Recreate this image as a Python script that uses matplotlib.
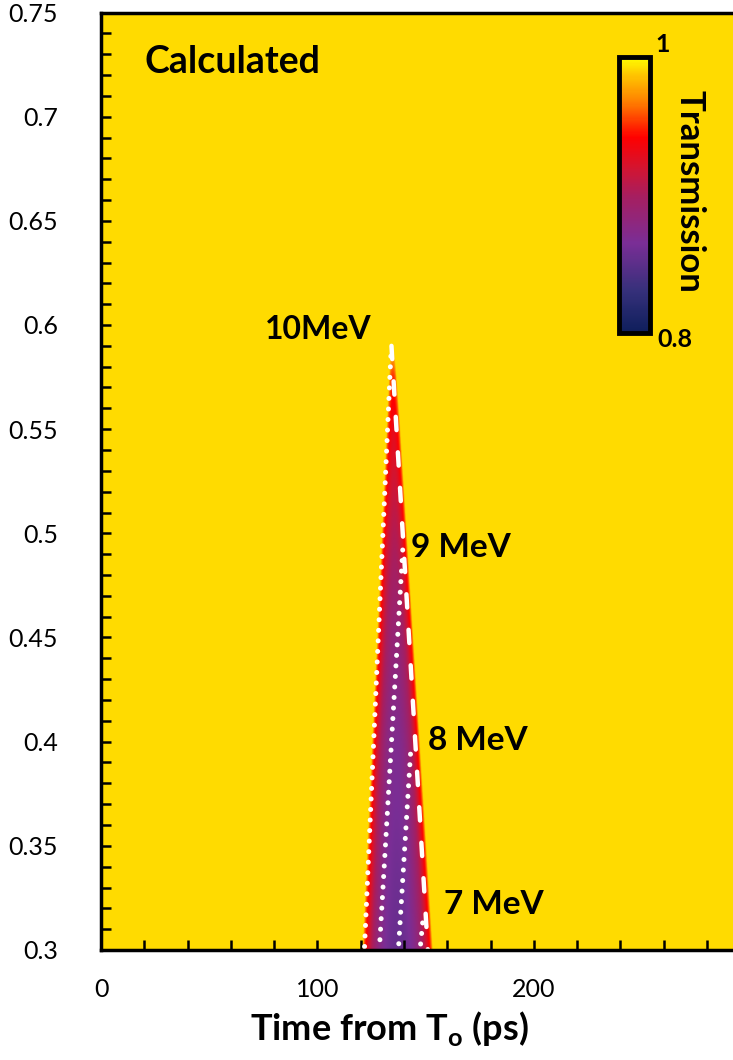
import matplotlib
matplotlib.use("Agg")
import matplotlib.pyplot as plt
import numpy as np
from matplotlib.colors import LinearSegmentedColormap
from matplotlib.ticker import MultipleLocator, FuncFormatter

plt.rcParams['font.family'] = ['Lato', 'DejaVu Sans']
plt.rcParams['mathtext.fontset'] = 'custom'
plt.rcParams['mathtext.rm'] = 'Lato'
plt.rcParams['mathtext.bf'] = 'Lato:bold'

# transmission colour scale, 0.8 (navy) -> 1 (yellow)
cmap_vals = [0.80, 0.83, 0.865, 0.90, 0.92, 0.942, 0.968, 0.988, 1.00]
cmap_cols = ['#0E1E5B', '#35307A', '#7A2E96', '#A81E5E', '#D4142F',
             '#FF0000', '#FF8000', '#FFC800', '#FFFF00']

# wedge of reduced transmission (time in ps vs y)
wedge_y = [0.30, 0.35, 0.40, 0.45, 0.50, 0.55, 0.575, 0.59]
wedge_left = [121.0, 123.2, 125.4, 127.7, 129.9, 132.1, 133.2, 134.0]
wedge_right = [153.2, 150.2, 147.2, 144.2, 141.2, 138.2, 136.5, 135.2]
wedge_tmin = [0.855, 0.862, 0.87, 0.885, 0.905, 0.93, 0.95, 0.99]
t_background = 0.992

# energy lines: (label, time at top, y at top, time at 0.3)
dash_t = [134.2, 151.0]
dash_y = [0.590, 0.300]
e_labels = ['10MeV', '9 MeV', '8 MeV', '7 MeV']
e_t_top = [133.9, 139.4, 143.0, 148.6]
e_y_top = [0.585, 0.492, 0.394, 0.313]
e_t_bot = [121.7, 128.6, 137.4, 147.4]
e_label_t = [125.2, 143.2, 151.0, 158.4]
e_label_y = [0.5976, 0.493, 0.4008, 0.3216]
e_label_ha = ['right', 'left', 'left', 'left']
e_label_size = [23, 24, 24, 24]

stops = [min(1.0, max(0.0, round((v - 0.8) / 0.2, 4))) for v in cmap_vals]
cmap = LinearSegmentedColormap.from_list('trans', list(zip(stops, cmap_cols)))

# build the transmission map
tt = np.linspace(0, 292, 1600)
yy = np.linspace(0.3, 0.75, 700)
T, Y = np.meshgrid(tt, yy)
left = np.interp(Y, wedge_y, wedge_left)
right = np.interp(Y, wedge_y, wedge_right)
tmin = np.interp(Y, wedge_y, wedge_tmin)
u = (T - left) / (right - left)
inside = (u > 0) & (u < 1) & (Y <= wedge_y[-1])
prof = np.where(inside, np.clip(4 * u * (1 - u), 0, 1) ** 0.55, 0)
trans = t_background - (t_background - tmin) * prof

fig = plt.figure(figsize=(7.33, 10.60), dpi=100)
ax = fig.add_axes([101 / 733, 1 - 950 / 1060, 1 - 101 / 733, (950 - 12.5) / 1060])

im = ax.imshow(trans, extent=[0, 292, 0.3, 0.75], origin='lower', aspect='auto',
               cmap=cmap, vmin=0.8, vmax=1.0, interpolation='bilinear')

ax.plot(dash_t, dash_y, color='white', lw=3.2, linestyle=(0, (3.0, 5.0)),
        dash_capstyle='round')
for i in range(len(e_labels)):
    ax.plot([e_t_top[i], e_t_bot[i]], [e_y_top[i], 0.3], color='white', lw=3.6,
            linestyle=(0, (0.01, 2.1)), dash_capstyle='round')
    ax.text(e_label_t[i], e_label_y[i], e_labels[i], fontsize=e_label_size[i],
            fontweight='bold', ha=e_label_ha[i], va='center')

ax.text(20.3, 0.7262, 'Calculated', fontsize=27, fontweight='bold', va='center')

ax.set_xlim(0, 292)
ax.set_ylim(0.3, 0.75)
ax.xaxis.set_major_locator(MultipleLocator(100))
ax.xaxis.set_minor_locator(MultipleLocator(20))
ax.yaxis.set_major_locator(MultipleLocator(0.05))
ax.yaxis.set_minor_locator(MultipleLocator(0.01))
ax.yaxis.set_major_formatter(FuncFormatter(lambda v, p: f'{v:.2f}'.rstrip('0').rstrip('.')))
ax.tick_params(which='both', direction='in', width=1.8, length=7, labelsize=18)
ax.tick_params(axis='x', pad=20)
ax.tick_params(axis='y', pad=31)
for s in ['left', 'bottom', 'top']:
    ax.spines[s].set_linewidth(2.5)
ax.spines['right'].set_visible(False)
ax.set_xlabel(r'Time from T$_\mathbf{o}$ (ps)', fontsize=26, fontweight='bold')
ax.xaxis.label.set_va('center')
ax.xaxis.set_label_coords(0.457, -0.084)

cax = fig.add_axes([619 / 733, 1 - 333 / 1060, 31 / 733, 276 / 1060])
cb = fig.colorbar(im, cax=cax, ticks=[])
cb.outline.set_linewidth(3.5)
fig.text(655 / 733, 1 - 45 / 1060, '1', fontsize=18, fontweight='bold', ha='left', va='center')
fig.text(675 / 733, 1 - 340 / 1060, '0.8', fontsize=18, fontweight='bold', ha='center', va='center')
fig.text(690 / 733, 1 - 191 / 1060, 'Transmission', fontsize=25, fontweight='bold',
         rotation=270, ha='center', va='center')

fig.savefig('out.png', dpi=100)
